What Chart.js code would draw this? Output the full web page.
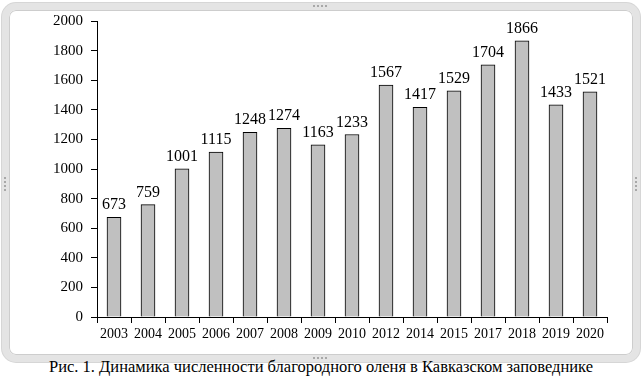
<!DOCTYPE html>
<html>
<head>
<meta charset="utf-8">
<script src="https://cdn.jsdelivr.net/npm/chart.js@4/dist/chart.umd.min.js"></script>
<style>
  html, body { margin: 0; padding: 0; background: #fff; }
  body { width: 642px; height: 380px; position: relative; overflow: hidden; }
  #frame {
    position: absolute; left: 2px; top: 3px; width: 638px; height: 359px;
    box-sizing: border-box; border: 7px solid #e4e4e4; border-radius: 14px;
    box-shadow: inset 0 0 0 1px #cdcdcd, 0 0 0 1px #d6d6d6;
    background: #fff;
  }
  .hh { position: absolute; height: 0; border-top: 2px dotted #a8a8a8; }
  .hv { position: absolute; width: 0; border-left: 2px dotted #a8a8a8; }
  #wrap { position: absolute; left: 0; top: 0; width: 642px; height: 350px; }
  #caption {
    position: absolute; left: 0; width: 642px; top: 357px; text-align: center;
    font-family: "Liberation Serif", "Times New Roman", serif; font-size: 16.5px; color: #000;
    line-height: 20px;
  }
</style>
</head>
<body>
<div id="frame"></div>
<div class="hh" style="left:313px; top:5px; width:14px;"></div>
<div class="hh" style="left:313px; top:357px; width:14px;"></div>
<div class="hv" style="left:4px; top:177px; height:14px;"></div>
<div class="hv" style="left:635px; top:177px; height:14px;"></div>
<div id="wrap"><canvas id="c" width="642" height="350"></canvas></div>
<div id="caption">Рис. 1. Динамика численности благородного оленя в Кавказском заповеднике</div>
<script>
const years = ["2003","2004","2005","2006","2007","2008","2009","2010","2012","2014","2015","2017","2018","2019","2020"];
const counts = [673, 759, 1001, 1115, 1248, 1274, 1163, 1233, 1567, 1417, 1529, 1704, 1866, 1433, 1521];
const yTicks = [0, 200, 400, 600, 800, 1000, 1200, 1400, 1600, 1800, 2000];

const serif = "'Liberation Serif', 'Times New Roman', serif";
Chart.defaults.font.family = serif;
Chart.defaults.color = '#000';

const valueLabels = {
  id: 'valueLabels',
  afterDatasetsDraw(chart) {
    const ctx = chart.ctx;
    const meta = chart.getDatasetMeta(0);
    ctx.save();
    ctx.font = '16px ' + serif;
    ctx.fillStyle = '#000';
    ctx.textAlign = 'center';
    ctx.textBaseline = 'alphabetic';
    meta.data.forEach((bar, i) => {
      ctx.fillText(String(chart.data.datasets[0].data[i]), bar.x, bar.y - 8);
    });
    ctx.restore();
  }
};

new Chart(document.getElementById('c'), {
  type: 'bar',
  data: {
    labels: years,
    datasets: [{
      data: counts,
      backgroundColor: '#c0c0c0',
      borderColor: '#000',
      borderWidth: 1,
      barThickness: 14
    }]
  },
  options: {
    responsive: false,
    animation: false,
    devicePixelRatio: 1,
    layout: { padding: { left: 40, right: 35, top: 21, bottom: 8 } },
    plugins: { legend: { display: false }, tooltip: { enabled: false } },
    scales: {
      x: {
        offset: true,
        grid: { display: true, offset: true, drawOnChartArea: false, drawTicks: true, tickLength: 6, color: '#000', lineWidth: 1 },
        border: { display: true, color: '#000', width: 1 },
        ticks: { color: '#000', font: { family: serif, size: 14 }, padding: 3, maxRotation: 0, autoSkip: false },
        afterFit(s) { s.height = 25; }
      },
      y: {
        min: 0, max: 2000,
        afterBuildTicks(s) { s.ticks = yTicks.map(v => ({ value: v })); },
        grid: { display: true, drawOnChartArea: false, drawTicks: true, tickLength: 6, color: '#000', lineWidth: 1 },
        border: { display: true, color: '#000', width: 1 },
        ticks: { color: '#000', font: { family: serif, size: 15 }, padding: 8, callback: v => String(v) },
        afterFit(s) { s.width = 57; }
      }
    }
  },
  plugins: [valueLabels]
});
</script>
</body>
</html>
